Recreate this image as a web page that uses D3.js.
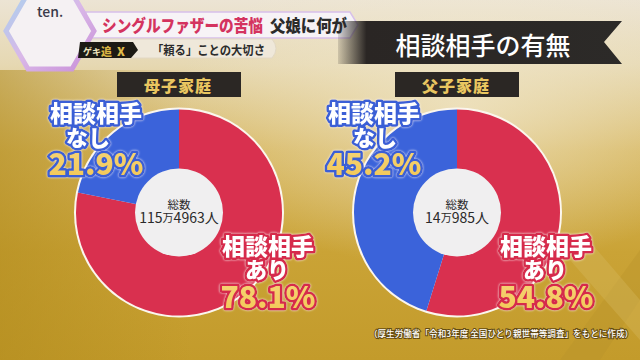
<!DOCTYPE html>
<html><head><meta charset="utf-8">
<script src="https://cdn.jsdelivr.net/npm/d3@7/dist/d3.min.js"></script>
<style>
html,body{margin:0;padding:0;background:#d8bf70;}
svg{display:block;}
text{font-family:"Noto Sans CJK JP","Noto Sans",sans-serif;}
</style></head>
<body>
<script>
// ---- data ----
const panels = ["母子家庭", "父子家庭"];
const categories = ["相談相手あり", "相談相手なし"];
const withValues = [78.1, 54.8];      // 相談相手あり (%)
const withoutValues = [21.9, 45.2];   // 相談相手なし (%)
const totalLabels = [["115", "万", "4963", "人"], ["14", "万", "985", "人"]];
const headerTitle = "シングルファザーの苦悩";
const headerTitle2 = "父娘に何が";
const headerSub = "「頼る」ことの大切さ";
const chartTitle = "相談相手の有無";
const source = "（厚生労働省「令和3年度 全国ひとり親世帯等調査」をもとに作成）";

const W = 640, H = 360;
const svg = d3.select("body").append("svg").attr("width", W).attr("height", H);
const defs = svg.append("defs");

// background gradients
const bg = defs.append("linearGradient").attr("id", "bg").attr("x1", 0).attr("y1", 0).attr("x2", 0).attr("y2", 1);
[[0, "#ece4d4"], [0.18, "#e6d8b2"], [0.42, "#d6b65e"], [0.7, "#caa336"], [1, "#c39b2b"]]
  .forEach(([o, c]) => bg.append("stop").attr("offset", o).attr("stop-color", c));
const lg = defs.append("linearGradient").attr("id", "leftdark").attr("x1", 0).attr("y1", 0).attr("x2", 1).attr("y2", 0);
lg.append("stop").attr("offset", 0).attr("stop-color", "#b08a1c").attr("stop-opacity", 0.55);
lg.append("stop").attr("offset", 0.3).attr("stop-color", "#b08a1c").attr("stop-opacity", 0);
const rg = defs.append("radialGradient").attr("id", "glow").attr("cx", 0.72).attr("cy", 0.3).attr("r", 0.45);
rg.append("stop").attr("offset", 0).attr("stop-color", "#f3ead0").attr("stop-opacity", 0.7);
rg.append("stop").attr("offset", 1).attr("stop-color", "#f3ead0").attr("stop-opacity", 0);
const pg = defs.append("linearGradient").attr("id", "pctGold").attr("x1", 0).attr("y1", 0).attr("x2", 0).attr("y2", 1);
pg.append("stop").attr("offset", 0).attr("stop-color", "#fbe9ad");
pg.append("stop").attr("offset", 1).attr("stop-color", "#f2c652");
const hexg = defs.append("linearGradient").attr("id", "hexg").attr("x1", 0).attr("y1", 0).attr("x2", 1).attr("y2", 1);
hexg.append("stop").attr("offset", 0).attr("stop-color", "#a9d2ee");
hexg.append("stop").attr("offset", 0.5).attr("stop-color", "#d9b8e8");
hexg.append("stop").attr("offset", 1).attr("stop-color", "#c98fd8");
const ban = defs.append("linearGradient").attr("id", "ban").attr("x1", 0).attr("y1", 0).attr("x2", 1).attr("y2", 0);
ban.append("stop").attr("offset", 0).attr("stop-color", "#2a2624").attr("stop-opacity", 0.15);
ban.append("stop").attr("offset", 0.1).attr("stop-color", "#2a2624");
ban.append("stop").attr("offset", 1).attr("stop-color", "#2c2a28");
const glowF = defs.append("filter").attr("id", "halo").attr("x", "-10%").attr("y", "-10%").attr("width", "120%").attr("height", "120%");
glowF.append("feDropShadow").attr("dx", 0).attr("dy", 0).attr("stdDeviation", 1.2)
  .attr("flood-color", "#ffffff").attr("flood-opacity", 0.8);

svg.append("rect").attr("width", W).attr("height", H).attr("fill", "url(#bg)");
svg.append("rect").attr("y", 70).attr("width", W).attr("height", H - 70).attr("fill", "url(#leftdark)");
svg.append("rect").attr("width", W).attr("height", H).attr("fill", "url(#glow)");
// faint X shape lower right
svg.append("path").attr("d", "M560,360 L640,250 L640,300 L600,360 Z").attr("fill", "#b8922a").attr("opacity", 0.35);
svg.append("path").attr("d", "M580,230 L640,300 L640,340 L570,260 Z").attr("fill", "#d8bb60").attr("opacity", 0.35);

// ---- header ----
const hdr = svg.append("g");
hdr.append("path").attr("d", "M86,12 L350,12 L358,25 L350,38 L86,38 Z").attr("fill", "#f7f3f6")
  .attr("stroke", "#d7c0ea").attr("stroke-width", 1.5);
hdr.append("path").attr("d", "M78,39 L272,39 Q280,48.5 272,58 L78,58 Z").attr("fill", "#efe8da")
  .attr("stroke", "#e2d8c4").attr("stroke-width", 1);
// hexagon logo
const hx = 50, hy = 31, hr = 44;
const hexPts = d3.range(6).map(i => {
  const a = Math.PI / 3 * i;
  return [hx + hr * Math.cos(a), hy + hr * Math.sin(a)];
});
hdr.append("polygon").attr("points", hexPts.map(p => p.join(",")).join(" "))
  .attr("fill", "#f5f1f3").attr("stroke", "url(#hexg)").attr("stroke-width", 5);
hdr.append("text").attr("x", 50).attr("y", 17).attr("text-anchor", "middle")
  .attr("font-size", 14).attr("font-weight", 500).attr("fill", "#3a3a4a").text("ten.");
hdr.append("text").attr("x", 102).attr("y", 32).attr("font-size", 17).attr("font-weight", 900)
  .attr("textLength", 161).attr("lengthAdjust", "spacingAndGlyphs")
  .attr("fill", "#d4335f").text(headerTitle);
hdr.append("text").attr("x", 270).attr("y", 32).attr("font-size", 17).attr("font-weight", 900)
  .attr("textLength", 77).attr("lengthAdjust", "spacingAndGlyphs")
  .attr("fill", "#2b2b2b").text(headerTitle2);
// ゲキ追X logo
hdr.append("path").attr("d", "M80,42 L133,42 L138,50 L131,58 L78,58 Z").attr("fill", "#1c1a14");
hdr.append("text").attr("x", 83).attr("y", 54.5).attr("font-size", 9).attr("font-weight", 700)
  .attr("fill", "#f0e6c0").text("ゲキ");
hdr.append("text").attr("x", 101).attr("y", 55.5).attr("font-size", 11).attr("font-weight", 900)
  .attr("fill", "#d9b443").text("追");
hdr.append("text").attr("x", 117).attr("y", 55.5).attr("font-size", 12).attr("font-weight", 900)
  .attr("fill", "#e0bd4a").text("X");
hdr.append("text").attr("x", 152).attr("y", 55).attr("font-size", 12.5).attr("font-weight", 700)
  .attr("textLength", 113).attr("lengthAdjust", "spacingAndGlyphs")
  .attr("fill", "#2b2b2b").text(headerSub);

// chart title banner
svg.append("path").attr("d", "M338,21 L622,21 L604,42 L622,64 L338,64 Z").attr("fill", "url(#ban)");
svg.append("text").attr("x", 483).attr("y", 44).attr("text-anchor", "middle").attr("dominant-baseline", "central")
  .attr("font-size", 25).attr("font-weight", 500).attr("fill", "#ffffff").text(chartTitle);

// ---- pies ----
const color = d3.scaleOrdinal().domain(categories).range(["#d9304f", "#3b63da"]);
const pie = d3.pie().sort(null).value(d => d.value);
const outerR = 103, innerR = 44;
const arc = d3.arc().innerRadius(innerR - 1).outerRadius(outerR);
const cx = d3.scalePoint().domain(panels).range([179, 457]);
const cy = 212.5;

const labelPos = [
  { none: [96, 88, 96], some: [268, 267, 268] },
  { none: [374, 375, 374], some: [546, 545, 546] }
];

// multi-line outlined label (one text element, three tspans)
const drawLabel = (xs, y0, lines, strokeCol) => {
  const t = svg.append("text").attr("y", y0).attr("text-anchor", "middle")
    .attr("font-weight", 900).attr("stroke", strokeCol).attr("stroke-width", 5)
    .attr("stroke-linejoin", "round").attr("paint-order", "stroke").attr("filter", "url(#halo)");
  lines.forEach((l, k) => {
    t.append("tspan").attr("x", xs[k]).attr("dy", l.dy).attr("font-size", l.size)
      .attr("fill", l.fill).text(l.text);
  });
};

panels.forEach((p, i) => {
  const data = [
    { cat: categories[0], value: withValues[i] },
    { cat: categories[1], value: withoutValues[i] }
  ];
  const g = svg.append("g").attr("transform", `translate(${cx(p)},${cy})`);
  // panel header box
  svg.append("rect").attr("x", cx(p) - 62).attr("y", 72).attr("width", 124).attr("height", 25)
    .attr("fill", "#2b2724");
  svg.append("text").attr("x", cx(p) - 1).attr("y", 85).attr("text-anchor", "middle").attr("dominant-baseline", "central")
    .attr("font-size", 16).attr("font-weight", 900).attr("letter-spacing", 1).attr("fill", "#e9c660").text(p);

  g.append("circle").attr("r", outerR + 2).attr("fill", "#fbf6ee");
  g.selectAll("path.slice").data(pie(data)).join("path").attr("class", "slice")
    .attr("d", arc).attr("fill", d => color(d.data.cat));
  g.append("circle").attr("r", innerR).attr("fill", "#f0eff0");
  g.append("text").attr("y", -9).attr("text-anchor", "middle").attr("dominant-baseline", "central")
    .attr("font-size", 11.5).attr("fill", "#2a2a2a").text("総数");
  const t = g.append("text").attr("y", 4).attr("text-anchor", "middle").attr("dominant-baseline", "central")
    .attr("fill", "#2a2a2a");
  totalLabels[i].forEach((s, k) => {
    t.append("tspan").attr("font-size", k === 1 ? 11 : 14).text(s);
  });

  const blue = "#3a5fd6", red = "#d62c4c";
  drawLabel(labelPos[i].none, 122, [
    { text: "相談相手", size: 23, fill: "#ffffff", dy: 0 },
    { text: "なし", size: 22, fill: "#ffffff", dy: 23.5 },
    { text: withoutValues[i].toFixed(1) + "%", size: 30, fill: "url(#pctGold)", dy: 29 }
  ], blue);
  drawLabel(labelPos[i].some, 255, [
    { text: "相談相手", size: 23, fill: "#ffffff", dy: 0 },
    { text: "あり", size: 22, fill: "#ffffff", dy: 23 },
    { text: withValues[i].toFixed(1) + "%", size: 30, fill: "url(#pctGold)", dy: 29.5 }
  ], red);
});

// source
svg.append("text").attr("x", 501).attr("y", 333).attr("text-anchor", "middle").attr("dominant-baseline", "central")
  .attr("font-size", 8.6).attr("font-weight", 500).attr("fill", "#ffffff")
  .attr("stroke", "rgba(70,50,10,0.75)").attr("stroke-width", 2).attr("paint-order", "stroke").text(source);
</script>
</body></html>
